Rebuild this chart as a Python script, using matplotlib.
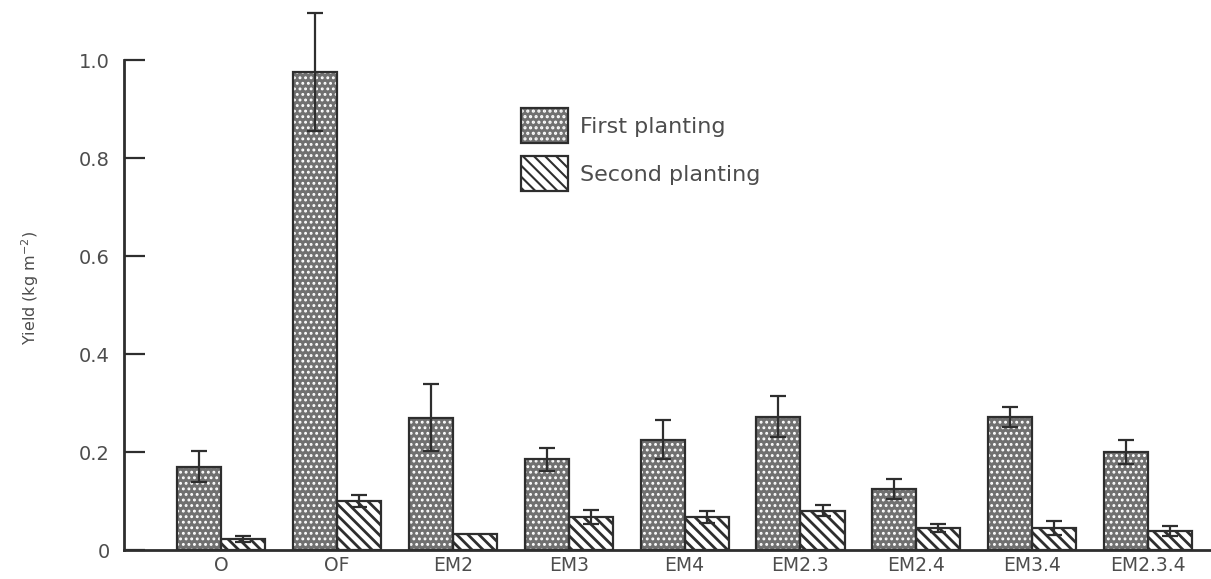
import matplotlib
matplotlib.use("Agg")
import matplotlib.pyplot as plt
from matplotlib.patches import Patch
from matplotlib.legend_handler import HandlerTuple
import numpy as np

# Treatments and mean yields (kg m^-2) with standard errors
treatments = ['O', 'OF', 'EM2', 'EM3', 'EM4', 'EM2.3', 'EM2.4', 'EM3.4', 'EM2.3.4']
first_planting = [0.17, 0.975, 0.27, 0.185, 0.225, 0.272, 0.125, 0.272, 0.200]
first_err = [0.032, 0.12, 0.068, 0.023, 0.04, 0.042, 0.02, 0.02, 0.024]
second_planting = [0.022, 0.10, 0.033, 0.068, 0.068, 0.080, 0.045, 0.045, 0.038]
second_err = [0.006, 0.012, 0.0, 0.014, 0.012, 0.011, 0.009, 0.015, 0.010]
yticks = [0, 0.2, 0.4, 0.6, 0.8, 1.0]
ytick_labels = ['0', '0.2', '0.4', '0.6', '0.8', '1.0']

plt.rcParams['font.family'] = ['DejaVu Sans']
plt.rcParams['hatch.linewidth'] = 1.5

ink = '#2e2e2e'
text_col = '#4d4d4d'
dot_face = '#707070'
DOTS = '...'
STRIPES = '\\\\\\'


def hatch_width(patches, lw):
    for p in patches:
        if hasattr(p, 'set_hatch_linewidth'):
            p.set_hatch_linewidth(lw)


fig = plt.figure(figsize=(12.11, 5.79), dpi=100)
ax = fig.add_axes([124 / 1211, 29 / 579, 1087 / 1211, 490 / 579])

x = np.arange(len(treatments))
w = 0.38

# First planting: grey screen with white dots, dark outline
dots = ax.bar(x - w, first_planting, width=w, align='edge', color=dot_face,
              edgecolor='white', linewidth=0, hatch=DOTS, zorder=2)
hatch_width(dots, 1.3)
ax.bar(x - w, first_planting, width=w, align='edge', fill=False,
       edgecolor=ink, linewidth=1.6, zorder=3)

# Second planting: diagonal stripes
stripes = ax.bar(x, second_planting, width=w, align='edge', color='white',
                 edgecolor=ink, linewidth=1.6, hatch=STRIPES, zorder=2)
hatch_width(stripes, 2.0)

err_kw = dict(fmt='none', ecolor=ink, elinewidth=1.6, capsize=5.5,
              capthick=1.6, zorder=4, clip_on=False)
ax.errorbar(x - w / 2, first_planting, yerr=first_err, **err_kw)
sec_mask = np.array(second_err) > 0
ax.errorbar((x + w / 2)[sec_mask], np.array(second_planting)[sec_mask],
            yerr=np.array(second_err)[sec_mask], **err_kw)

ax.set_xlim(-0.837, 8.542)
ax.set_ylim(0, 1.0)

for side in ('top', 'right'):
    ax.spines[side].set_visible(False)
for side in ('left', 'bottom'):
    ax.spines[side].set_color(ink)
    ax.spines[side].set_linewidth(2.0)

ax.set_yticks(yticks)
ax.set_yticklabels(ytick_labels)
ax.tick_params(axis='y', direction='in', length=15, width=1.6, color=ink,
               pad=10, labelsize=14, labelcolor=text_col)
ax.set_xticks(x)
ax.set_xticklabels(treatments)
ax.tick_params(axis='x', length=0, pad=4, labelsize=13.5, labelcolor=text_col)

ax.set_ylabel('Yield (kg m$^{-2}$)', fontsize=11.5, color=text_col)
ax.yaxis.set_label_coords(-0.076, 0.535)

h_dots = Patch(facecolor=dot_face, edgecolor='white', linewidth=0, hatch=DOTS)
h_edge = Patch(fill=False, edgecolor=ink, linewidth=1.6)
h_second = Patch(facecolor='white', edgecolor=ink, linewidth=1.6, hatch=STRIPES)
hatch_width([h_dots], 1.3)
hatch_width([h_second], 2.0)
fig.legend([(h_dots, h_edge), h_second], ['First planting', 'Second planting'],
           handler_map={tuple: HandlerTuple(ndivide=1, pad=0)},
           loc='upper left', bbox_to_anchor=(521 / 1211, 1 - 108 / 579),
           frameon=False, fontsize=16, labelcolor=text_col,
           handlelength=2.12, handleheight=2.05, handletextpad=0.54,
           labelspacing=0.585, borderpad=0, borderaxespad=0)

fig.savefig('out.png', dpi=100, facecolor='white')
